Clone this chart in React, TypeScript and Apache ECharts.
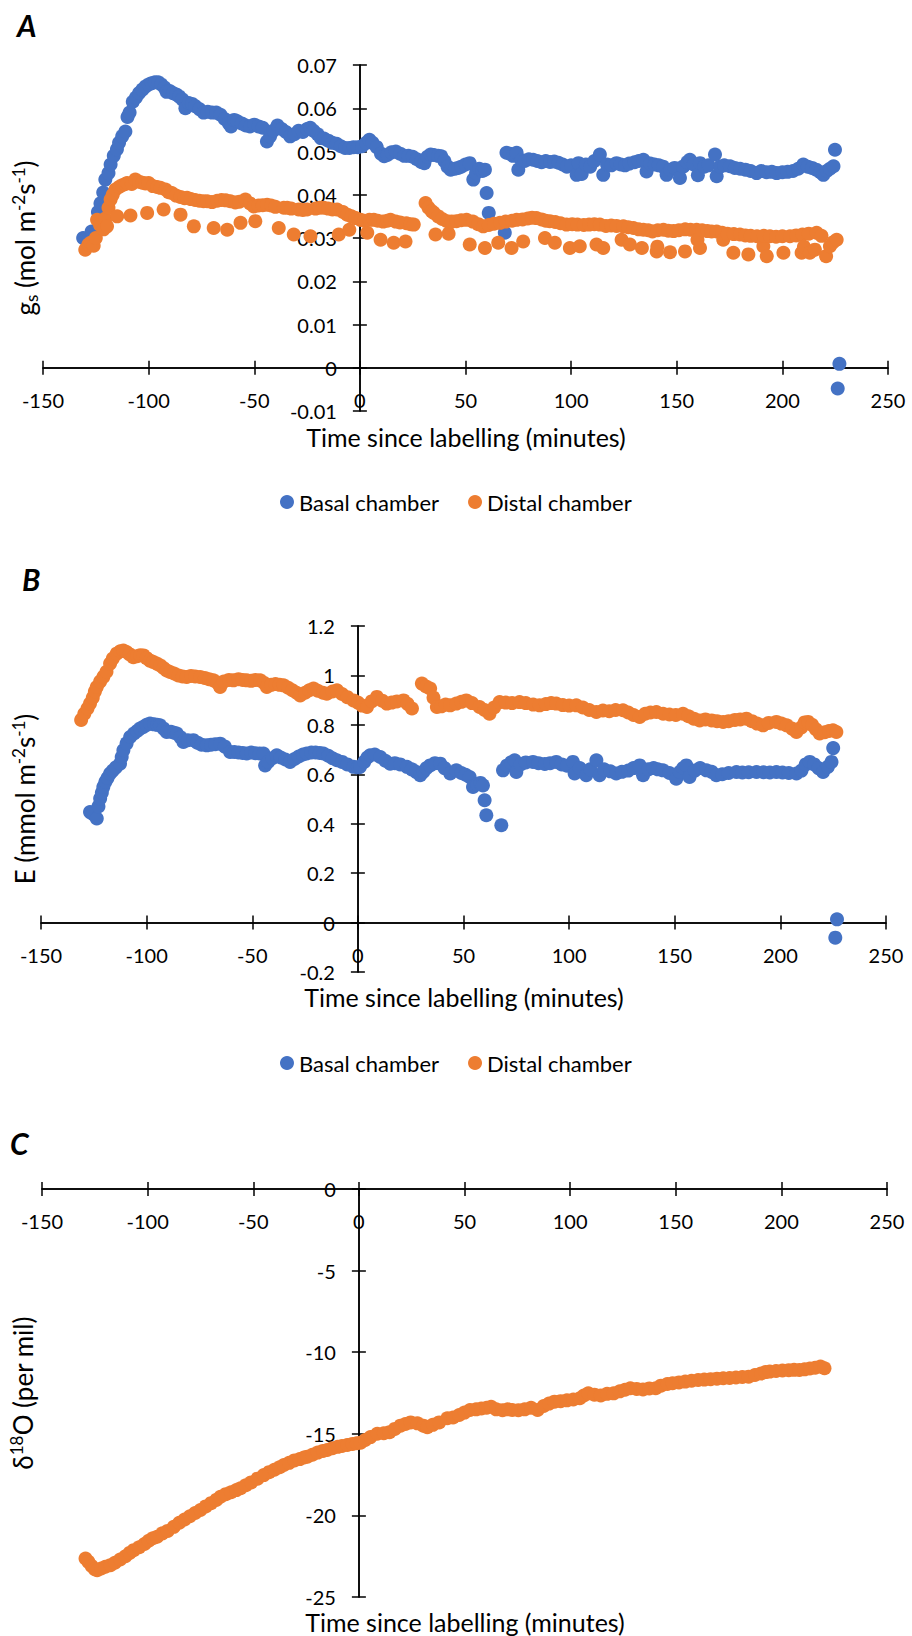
import React, { useEffect, useRef } from 'react';
import * as echarts from 'echarts';

const BLUE = '#4472C4';
const ORANGE = '#ED7D31';

const timeTicks = [-150, -100, -50, 0, 50, 100, 150, 200, 250];
const gsTicks = [-0.01, 0, 0.01, 0.02, 0.03, 0.04, 0.05, 0.06, 0.07];
const eTicks = [-0.2, 0, 0.2, 0.4, 0.6, 0.8, 1.0, 1.2];
const d18Ticks = [-25, -20, -15, -10, -5, 0];

const seriesNames = ['Basal chamber', 'Distal chamber'];

// Panel A: stomatal conductance, basal chamber
const gsBasal: [number, number][] = [
  [-131, 0.03], [-127, 0.0315], [-124, 0.036], [-122.8, 0.038], [-121.5, 0.0405], [-120.5, 0.0435],
  [-119, 0.045], [-118, 0.047], [-116.5, 0.049], [-115, 0.0505], [-114, 0.052], [-112.5, 0.0535],
  [-111, 0.0546], [-110, 0.058], [-109, 0.059], [-107.5, 0.0615], [-106, 0.0625], [-104.5, 0.0635],
  [-103, 0.0643], [-101.5, 0.065], [-100, 0.0655], [-98.5, 0.0658], [-97, 0.066], [-95.5, 0.066],
  [-94, 0.0655], [-92.5, 0.0648], [-91.5, 0.0638], [-90, 0.064], [-88.5, 0.0635], [-87, 0.0632],
  [-85.5, 0.0627], [-84, 0.062], [-82.6, 0.06], [-81, 0.0612], [-79.5, 0.061], [-78, 0.0605],
  [-76, 0.0598], [-74, 0.059], [-72, 0.0592], [-70, 0.059], [-68, 0.059], [-66, 0.0585],
  [-64, 0.0575], [-62, 0.0565], [-61, 0.0558], [-59.5, 0.0573], [-58, 0.057], [-56, 0.0565],
  [-54, 0.056], [-52, 0.0558], [-50, 0.0562], [-48, 0.0558], [-46, 0.0555], [-44, 0.0523],
  [-42.5, 0.0535], [-41, 0.0548], [-39, 0.056], [-37, 0.0552], [-35, 0.0545], [-33, 0.0535],
  [-31, 0.054], [-29, 0.0548], [-27, 0.0545], [-25, 0.0552], [-23.5, 0.0555], [-22, 0.0548],
  [-20, 0.054], [-18.5, 0.0531], [-17, 0.053], [-15, 0.0525], [-13, 0.052], [-11, 0.0518],
  [-9, 0.0512], [-7, 0.0508], [-5, 0.0508], [-3, 0.051], [-1, 0.051], [1, 0.0512],
  [3, 0.052], [4.5, 0.0527], [6, 0.052], [8, 0.051], [10, 0.0495], [11.5, 0.0489],
  [13, 0.0492], [15, 0.0498], [17, 0.05], [19, 0.0495], [21, 0.049], [23, 0.049],
  [25, 0.0488], [27, 0.0482], [29, 0.0476], [30.5, 0.0473], [32, 0.0488], [33.5, 0.0493],
  [35, 0.0492], [37, 0.049], [38.5, 0.0489], [40, 0.0478], [41.5, 0.0465], [43, 0.0458],
  [45, 0.046], [46.5, 0.0462], [48, 0.0465], [50, 0.047], [52, 0.0473], [53.7, 0.0435],
  [55, 0.045], [56.5, 0.046], [58, 0.0455], [59.2, 0.0458], [60, 0.0404], [61, 0.0358],
  [68.6, 0.0312], [69.4, 0.0497], [71, 0.0495], [72.5, 0.049], [74.2, 0.0497], [75, 0.0458],
  [76.5, 0.048], [78, 0.0478], [80, 0.0482], [82, 0.0481], [84, 0.0478], [86, 0.0475],
  [88, 0.0478], [90, 0.0476], [92, 0.0477], [94, 0.0474], [96, 0.047], [98, 0.0465],
  [100, 0.0468], [102.6, 0.0446], [103.5, 0.0473], [105, 0.0448], [107, 0.047], [109, 0.0465],
  [111, 0.0478], [113.6, 0.0493], [115.2, 0.0446], [117, 0.047], [119, 0.0468], [121.5, 0.0473],
  [123.5, 0.047], [125.5, 0.0468], [127.5, 0.0472], [130, 0.0475], [132, 0.0478], [134.2, 0.0481],
  [135.7, 0.0454], [137.5, 0.0472], [139.5, 0.047], [141.5, 0.0468], [143.5, 0.0465], [145.2, 0.0446],
  [147, 0.0458], [149, 0.0462], [151.5, 0.0439], [153, 0.0465], [155, 0.0475], [156.2, 0.0481],
  [158, 0.047], [160, 0.0445], [161, 0.0473], [163, 0.0465], [165, 0.0468], [168.1, 0.0493],
  [168.9, 0.0443], [170.5, 0.0465], [172.5, 0.0468], [175.2, 0.0466], [177.5, 0.0462], [180, 0.046],
  [182.5, 0.0458], [185, 0.0455], [187.8, 0.045], [190, 0.0455], [192.5, 0.0452], [195, 0.0453],
  [197.3, 0.045], [200, 0.0452], [202.5, 0.0453], [205, 0.0455], [207.5, 0.046], [209.9, 0.047],
  [212, 0.0465], [214, 0.0462], [216, 0.0458], [218, 0.0452], [219.4, 0.0446], [221, 0.0455],
  [222.5, 0.046], [224.2, 0.0466], [224.9, 0.0504], [226.2, -0.0048], [227, 0.0009],
];

// Panel A: stomatal conductance, distal chamber
const gsDistal: [number, number][] = [
  [-130, 0.0273], [-128.5, 0.0285], [-127.5, 0.0289], [-126, 0.0282], [-125, 0.03], [-124.4, 0.0342],
  [-123, 0.033], [-121.3, 0.032], [-120.5, 0.0345], [-119.7, 0.0327], [-119, 0.037], [-118, 0.0389],
  [-117, 0.04], [-115.7, 0.0412], [-114.9, 0.035], [-114, 0.0418], [-112.5, 0.0422], [-111, 0.0425],
  [-110.2, 0.0427], [-108.6, 0.0352], [-108, 0.0425], [-106.3, 0.0435], [-104.5, 0.043], [-103, 0.0428],
  [-101.5, 0.0426], [-100.7, 0.0358], [-100, 0.0427], [-98, 0.042], [-96, 0.0418], [-94.4, 0.0416],
  [-92.9, 0.0366], [-92, 0.0412], [-90.5, 0.0406], [-89, 0.0404], [-87, 0.0398], [-85, 0.0395],
  [-84.9, 0.0354], [-83, 0.0392], [-81.8, 0.0393], [-80, 0.039], [-78.6, 0.0327], [-78, 0.0388],
  [-76, 0.0386], [-74, 0.0385], [-72.3, 0.0385], [-70, 0.0383], [-69.2, 0.0323], [-67.5, 0.0386],
  [-65.5, 0.0388], [-63.5, 0.0387], [-62.8, 0.0319], [-61.3, 0.0385], [-59, 0.0382], [-57, 0.0384],
  [-56.5, 0.0335], [-54.2, 0.0389], [-52, 0.038], [-50.2, 0.0373], [-49.5, 0.0339], [-48, 0.0375],
  [-46, 0.0376], [-43.9, 0.0377], [-42, 0.0375], [-40, 0.0372], [-38.4, 0.0323], [-36, 0.037],
  [-34.4, 0.037], [-32.5, 0.0368], [-31.3, 0.0308], [-29, 0.0366], [-27, 0.0365], [-25, 0.0366],
  [-23.4, 0.0304], [-21, 0.0368], [-19, 0.037], [-17.1, 0.037], [-15, 0.0368], [-13, 0.0366],
  [-10.8, 0.0366], [-10, 0.0308], [-8, 0.036], [-6, 0.0354], [-5, 0.0319], [-4, 0.035],
  [-2, 0.0346], [0.3, 0.0342], [2, 0.034], [3.5, 0.0312], [4.5, 0.0342], [6.6, 0.0342],
  [8.5, 0.034], [9.8, 0.0296], [11, 0.0338], [13, 0.034], [14.5, 0.0342], [16, 0.0289],
  [17, 0.0338], [19, 0.0336], [21.6, 0.0292], [22, 0.0334], [24, 0.0332], [25.5, 0.0331],
  [31.1, 0.0381], [32.5, 0.037], [34, 0.0362], [35, 0.0358], [35.8, 0.0308], [37, 0.035],
  [39, 0.0344], [41.3, 0.0339], [42, 0.031], [43.5, 0.0338], [45.7, 0.0339], [48, 0.0341],
  [50.5, 0.0342], [52, 0.0285], [53.5, 0.0338], [56, 0.0332], [58.4, 0.0327], [59.2, 0.0277],
  [61, 0.033], [63.5, 0.0333], [65.5, 0.0289], [66.3, 0.0335], [69, 0.0338], [71.8, 0.0277],
  [72, 0.034], [74.2, 0.0342], [77, 0.0343], [77.3, 0.0292], [79.5, 0.0345], [81.5, 0.0347],
  [83.6, 0.0346], [86, 0.0343], [87.6, 0.03], [88, 0.034], [89.9, 0.0339], [92.3, 0.0289],
  [92.5, 0.0337], [95, 0.0334], [97.8, 0.0331], [99.4, 0.0277], [100.5, 0.0332], [103, 0.0331],
  [104.1, 0.0281], [106, 0.033], [108.5, 0.0331], [111, 0.0332], [112, 0.0285], [113.6, 0.0331],
  [115.2, 0.0277], [116.5, 0.0328], [119, 0.0329], [121.5, 0.0328], [123.9, 0.0296], [124.7, 0.0327],
  [127, 0.0325], [127.8, 0.0285], [129.5, 0.0323], [132, 0.032], [133.5, 0.0277], [134.2, 0.0319],
  [136.5, 0.0318], [138.5, 0.0315], [140.5, 0.0269], [140.8, 0.028], [141, 0.0318], [143.7, 0.0319],
  [146, 0.0317], [146.8, 0.0267], [148.5, 0.0316], [151, 0.0318], [153.9, 0.0269], [154, 0.032],
  [156.5, 0.0319], [159.4, 0.0319], [159.8, 0.0296], [161, 0.0277], [162, 0.0318], [164.5, 0.0316],
  [166.5, 0.0315], [168.9, 0.0315], [171.5, 0.0312], [172, 0.0296], [174, 0.031], [176.8, 0.0266],
  [177, 0.0309], [179.9, 0.0308], [182.5, 0.0306], [183.9, 0.0262], [185, 0.0305], [188, 0.0304],
  [191, 0.0281], [191.2, 0.0305], [192.6, 0.0258], [194.1, 0.0304], [197, 0.0303], [200, 0.0304],
  [200.5, 0.0266], [203.6, 0.0304], [206.5, 0.0306], [209.1, 0.0266], [209.5, 0.0308], [210.2, 0.028],
  [212.5, 0.031], [213, 0.0266], [215.4, 0.0273], [216.2, 0.0312], [218.5, 0.0305], [220.7, 0.0258],
  [222.5, 0.0281], [224, 0.029], [225.7, 0.0296],
];

// Panel B: transpiration, basal chamber
const eBasal: [number, number][] = [
  [-126.8, 0.447], [-125.5, 0.44], [-123.6, 0.421], [-122.8, 0.47], [-122, 0.502], [-121.2, 0.525],
  [-120.5, 0.549], [-119.5, 0.57], [-118.5, 0.585], [-117.3, 0.603], [-116, 0.615], [-114.5, 0.628],
  [-112.6, 0.643], [-111.8, 0.67], [-111, 0.697], [-109.5, 0.725], [-107.8, 0.751], [-106, 0.765],
  [-104.5, 0.775], [-103.1, 0.785], [-101.5, 0.792], [-100, 0.8], [-98.4, 0.805], [-96.5, 0.802],
  [-95, 0.8], [-93.7, 0.798], [-92, 0.785], [-90.5, 0.771], [-88.5, 0.772], [-87, 0.768],
  [-85.7, 0.765], [-84, 0.75], [-82.6, 0.731], [-80.5, 0.738], [-77.9, 0.738], [-76, 0.728],
  [-74, 0.72], [-71.5, 0.717], [-69.5, 0.72], [-67.5, 0.722], [-65.2, 0.724], [-63, 0.712],
  [-60.5, 0.69], [-58.5, 0.69], [-56.5, 0.688], [-54.5, 0.686], [-52.6, 0.684], [-50.5, 0.688],
  [-48.5, 0.685], [-46.5, 0.684], [-44.7, 0.684], [-43.9, 0.636], [-42.5, 0.65], [-40.5, 0.665],
  [-38.4, 0.677], [-36.5, 0.668], [-34.3, 0.66], [-32.1, 0.65], [-30, 0.662], [-28, 0.672],
  [-26, 0.68], [-24.2, 0.684], [-22, 0.688], [-20, 0.688], [-18, 0.686], [-16.3, 0.684],
  [-14, 0.675], [-12, 0.665], [-9.9, 0.657], [-7.5, 0.65], [-5, 0.64], [-2.1, 0.63],
  [0, 0.628], [1, 0.63], [3, 0.65], [4.5, 0.668], [5.8, 0.677], [8, 0.68],
  [10.6, 0.67], [13, 0.655], [15.3, 0.643], [17.5, 0.645], [20, 0.64], [23.2, 0.63],
  [25.5, 0.62], [27.5, 0.61], [29.5, 0.596], [31, 0.61], [32.5, 0.625], [34.2, 0.636],
  [36.5, 0.645], [39, 0.643], [41, 0.625], [43.7, 0.603], [46.6, 0.616], [49, 0.605],
  [51, 0.598], [52.9, 0.589], [54.5, 0.549], [56.5, 0.56], [58, 0.565], [59.2, 0.555],
  [60, 0.495], [60.8, 0.434], [67.9, 0.394], [68.7, 0.616], [70.5, 0.635], [72.5, 0.648],
  [74.2, 0.657], [75, 0.609], [77, 0.64], [79.5, 0.648], [82.9, 0.65], [85.5, 0.645],
  [88.5, 0.642], [91, 0.645], [93.9, 0.65], [96.5, 0.64], [99, 0.635], [101.8, 0.65],
  [102.6, 0.603], [105, 0.625], [108.1, 0.596], [110, 0.62], [112.9, 0.657], [114.4, 0.596],
  [116.5, 0.62], [119.5, 0.612], [122.3, 0.603], [125, 0.61], [128, 0.615], [130.5, 0.625],
  [133.4, 0.636], [135, 0.596], [137.5, 0.62], [140, 0.625], [142, 0.62], [144.4, 0.616],
  [147.5, 0.605], [150.7, 0.582], [152.5, 0.61], [154, 0.625], [155.5, 0.636], [157, 0.589],
  [159.5, 0.615], [162, 0.625], [165, 0.616], [167.5, 0.61], [169.7, 0.596], [172.5, 0.6],
  [175.5, 0.605], [179.2, 0.609], [182, 0.607], [185, 0.608], [188.7, 0.609], [192, 0.608],
  [195, 0.607], [198.1, 0.609], [201, 0.607], [204, 0.605], [207.6, 0.603], [210, 0.615],
  [212, 0.64], [213.9, 0.65], [216, 0.64], [218, 0.625], [220.2, 0.609], [222.5, 0.63],
  [224.2, 0.65], [225, 0.706], [226, -0.061], [226.8, 0.013],
];

// Panel B: transpiration, distal chamber
const eDistal: [number, number][] = [
  [-131, 0.82], [-129.5, 0.845], [-128, 0.866], [-126.8, 0.886], [-125.5, 0.91], [-124.5, 0.935],
  [-123.6, 0.953], [-122, 0.975], [-120.5, 0.994], [-119, 1.015], [-117.3, 1.048], [-116, 1.068],
  [-114.2, 1.088], [-112.5, 1.098], [-111, 1.101], [-109.5, 1.095], [-108, 1.085], [-106.3, 1.074],
  [-104.5, 1.078], [-103, 1.082], [-101.5, 1.081], [-100, 1.07], [-98.5, 1.06], [-97, 1.055],
  [-95.2, 1.048], [-93.5, 1.04], [-92, 1.03], [-90.5, 1.02], [-88.9, 1.014], [-87, 1.008],
  [-85, 1.0], [-83, 0.996], [-81, 0.994], [-79, 0.998], [-77, 0.996], [-74.7, 0.994],
  [-72.5, 0.99], [-70.5, 0.985], [-68.4, 0.98], [-66.5, 0.97], [-65.2, 0.953], [-63.5, 0.975],
  [-61, 0.982], [-58.9, 0.98], [-56.5, 0.985], [-54.5, 0.982], [-52.6, 0.98], [-50.5, 0.978],
  [-48.5, 0.982], [-46.3, 0.98], [-44.5, 0.97], [-43.1, 0.953], [-41, 0.962], [-39, 0.965],
  [-37, 0.962], [-35.2, 0.96], [-33, 0.95], [-31, 0.94], [-29, 0.93], [-27.3, 0.919],
  [-25, 0.93], [-23, 0.94], [-21, 0.947], [-19, 0.938], [-16.5, 0.93], [-14.7, 0.926],
  [-12, 0.935], [-9.9, 0.94], [-7.5, 0.925], [-5, 0.912], [-2.1, 0.899], [0, 0.89],
  [2, 0.878], [4.3, 0.872], [6.5, 0.895], [9, 0.913], [11.5, 0.898], [13.7, 0.886],
  [16, 0.89], [18.5, 0.895], [21.6, 0.899], [23.5, 0.885], [25.6, 0.866], [30.3, 0.967],
  [32.3, 0.955], [34.2, 0.947], [35.8, 0.91], [37.4, 0.872], [39.5, 0.875], [41.5, 0.882],
  [43.7, 0.879], [46.6, 0.886], [49, 0.893], [51.3, 0.899], [54, 0.888], [57.6, 0.872],
  [60, 0.86], [62.3, 0.845], [64.5, 0.87], [67.1, 0.892], [70, 0.89], [73, 0.888],
  [76.5, 0.892], [79.5, 0.888], [83, 0.882], [86, 0.879], [89, 0.884], [91.5, 0.888],
  [93.9, 0.886], [97, 0.88], [100, 0.878], [103.4, 0.879], [106.5, 0.87], [109.5, 0.86],
  [112.9, 0.852], [116, 0.858], [119, 0.855], [122, 0.86], [125.5, 0.859], [128, 0.85],
  [130.5, 0.84], [133.4, 0.832], [136, 0.845], [138.5, 0.85], [141.3, 0.852], [144.5, 0.845],
  [147.5, 0.842], [150.5, 0.84], [153.9, 0.845], [156.5, 0.835], [159, 0.825], [161.8, 0.818],
  [164.5, 0.822], [167.5, 0.818], [170, 0.815], [172.9, 0.812], [175.5, 0.815], [178.5, 0.82],
  [181, 0.822], [183.9, 0.825], [186.5, 0.815], [189, 0.805], [191.8, 0.798], [194.5, 0.808],
  [198.1, 0.812], [200.5, 0.805], [203, 0.798], [205.5, 0.785], [207.6, 0.771], [210, 0.79],
  [211.5, 0.81], [213.1, 0.812], [215, 0.8], [216.8, 0.782], [218.6, 0.765], [221, 0.77],
  [223, 0.775], [224.9, 0.778], [226.5, 0.771],
];

// Panel C: delta 18O of distal chamber
const d18Distal: [number, number][] = [
  [-129.4, -22.64], [-128, -22.85], [-126.5, -23.1], [-125, -23.3], [-123.9, -23.36], [-122, -23.25],
  [-120, -23.15], [-117.6, -23.05], [-115.5, -22.9], [-113, -22.7], [-110.5, -22.5], [-108.5, -22.3],
  [-106.6, -22.13], [-104, -21.95], [-101.5, -21.75], [-99.5, -21.55], [-97.5, -21.4], [-95.5, -21.31],
  [-93, -21.1], [-90.5, -20.95], [-87.6, -20.7], [-85, -20.45], [-82.5, -20.25], [-80, -20.05],
  [-77.5, -19.85], [-75, -19.67], [-72.5, -19.45], [-70, -19.25], [-67.5, -19.05], [-65.5, -18.86],
  [-63, -18.7], [-60.5, -18.58], [-58, -18.45], [-56, -18.34], [-53.5, -18.15], [-51, -17.98],
  [-48, -17.75], [-45, -17.53], [-42.5, -17.35], [-40, -17.2], [-37.5, -17.05], [-35.5, -16.91],
  [-33, -16.78], [-30.5, -16.63], [-28, -16.55], [-26, -16.45], [-24.4, -16.4], [-22, -16.28],
  [-19.5, -16.15], [-17, -16.05], [-15, -15.99], [-12.5, -15.88], [-10, -15.8], [-8, -15.75],
  [-5.5, -15.69], [-3, -15.62], [-1, -15.58], [0.8, -15.55], [3, -15.38], [5.5, -15.2],
  [8.7, -15.0], [11.8, -14.97], [14.5, -14.9], [17, -14.7], [19.7, -14.5], [22, -14.4],
  [24.5, -14.3], [27.7, -14.36], [30.5, -14.5], [32.4, -14.6], [35, -14.45], [38, -14.3],
  [41.9, -14.05], [44.6, -14.0], [47.5, -13.85], [50, -13.7], [52.6, -13.54], [55.5, -13.5],
  [58, -13.45], [60.5, -13.4], [62.6, -13.34], [65, -13.5], [68, -13.55], [70.5, -13.5],
  [72.6, -13.54], [75.5, -13.55], [78.5, -13.5], [81.5, -13.4], [84.6, -13.54], [87.5, -13.3],
  [90, -13.15], [92.6, -13.03], [95.5, -13.0], [98.5, -12.95], [101.5, -12.9], [104.6, -12.82],
  [106.5, -12.65], [108.6, -12.52], [111.5, -12.6], [114.5, -12.65], [117.5, -12.55], [120.6, -12.52],
  [123.5, -12.4], [126, -12.3], [128.5, -12.21], [131.5, -12.25], [134.5, -12.28], [137.5, -12.22],
  [140.5, -12.21], [143, -12.05], [146, -11.95], [148.5, -11.9], [151.5, -11.85], [154.5, -11.8],
  [157.5, -11.75], [160.6, -11.7], [163.5, -11.68], [166.5, -11.65], [169.5, -11.62], [172.5, -11.6],
  [175.5, -11.58], [178.5, -11.55], [181.5, -11.52], [184.5, -11.5], [187.5, -11.4], [190.5, -11.3],
  [192.5, -11.22], [194.5, -11.19], [197.5, -11.15], [200.5, -11.12], [203.5, -11.1], [206, -11.08],
  [208.5, -11.09], [211, -11.05], [213.5, -11.0], [216, -10.95], [218.5, -10.88], [220.4, -10.98],
];

const FONT = 'Lato';
const AXIS_COLOR = '#000';

const grids = [
  { left: 43, top: 65, width: 845, height: 346 },
  { left: 41, top: 626, width: 845, height: 346 },
  { left: 42, top: 1189, width: 845, height: 408 },
];

function fmt(v: number, d: number) {
  return String(+v.toFixed(d));
}

function buildAxes(i: number, yTicks: number[], decimals: number) {
  const g = grids[i];
  const xmin = timeTicks[0];
  const xmax = timeTicks[timeTicks.length - 1];
  const xInt = timeTicks[1] - timeTicks[0];
  const ymin = yTicks[0];
  const ymax = yTicks[yTicks.length - 1];
  const yInt = +(yTicks[1] - yTicks[0]).toFixed(6);
  const zTop = (g.height * (ymax - 0)) / (ymax - ymin);
  const zBottom = g.height - zTop;
  const zLeft = (g.width * (0 - xmin)) / (xmax - xmin);
  const zRight = g.width - zLeft;
  const line = { show: true, onZero: false, lineStyle: { color: AXIS_COLOR, width: 1.5 } };
  const tick = { show: true, length: 7, lineStyle: { color: AXIS_COLOR, width: 1.5 } };
  const label = {
    fontFamily: FONT,
    fontSize: 20,
    lineHeight: 18,
    color: '#000',
    showMinLabel: true,
    showMaxLabel: true,
  };
  const xCommon = {
    gridIndex: i,
    type: 'value' as const,
    min: xmin,
    max: xmax,
    interval: xInt,
    splitLine: { show: false },
    axisLine: line,
    axisTick: tick,
  };
  const yCommon = {
    gridIndex: i,
    type: 'value' as const,
    min: ymin,
    max: ymax,
    interval: yInt,
    splitLine: { show: false },
    axisLine: line,
    axisTick: tick,
  };
  const xAxes = [
    {
      ...xCommon,
      position: 'bottom',
      offset: -zBottom,
      axisLabel: { ...label, margin: 23, formatter: (v: number) => fmt(v, 0) },
    },
    { ...xCommon, position: 'top', offset: -zTop, axisLabel: { show: false } },
  ];
  const yAxes = [
    {
      ...yCommon,
      position: 'left',
      offset: -zLeft,
      axisLabel: { ...label, margin: 23, formatter: (v: number) => fmt(v, decimals) },
    },
    { ...yCommon, position: 'right', offset: -zRight, axisLabel: { show: false } },
  ];
  return { xAxes, yAxes };
}

function scatter(name: string, data: [number, number][], color: string, gi: number) {
  return {
    type: 'scatter',
    name,
    xAxisIndex: gi * 2,
    yAxisIndex: gi * 2,
    data,
    symbol: 'circle',
    symbolSize: 14,
    itemStyle: { color, opacity: 1 },
    emphasis: { disabled: true },
    silent: true,
  };
}

function textEl(x: number, y: number, text: string, fontSize: number, extra: any = {}) {
  return {
    type: 'text',
    x,
    y,
    rotation: extra.rotation || 0,
    style: {
      text,
      x: 0,
      y: 0,
      fill: '#000',
      fontFamily: FONT,
      fontSize,
      lineHeight: extra.lineHeight,
      fontWeight: extra.fontWeight || 'normal',
      fontStyle: extra.fontStyle || 'normal',
      align: extra.align || 'center',
      textAlign: extra.align || 'center',
      verticalAlign: 'middle',
      textVerticalAlign: 'middle',
      rich: extra.rich,
    },
  };
}

const titleRich = {
  sup: { fontFamily: FONT, fontSize: 17, verticalAlign: 'top', fill: '#000', lineHeight: 30 },
  sub: { fontFamily: FONT, fontSize: 17, verticalAlign: 'bottom', fill: '#000', lineHeight: 30 },
};

export default function App() {
  const ref = useRef<HTMLDivElement>(null);
  useEffect(() => {
    document.body.style.margin = '0';
    if (!ref.current) return;
    const chart = echarts.init(ref.current, null, { renderer: 'svg', width: 912, height: 1636 });
    const a = buildAxes(0, gsTicks, 2);
    const b = buildAxes(1, eTicks, 1);
    const c = buildAxes(2, d18Ticks, 0);
    const legendBase = {
      data: seriesNames,
      left: 280,
      icon: 'circle',
      itemWidth: 14,
      itemHeight: 14,
      itemGap: 29,
      padding: 0,
      selectedMode: false,
      textStyle: { fontFamily: FONT, fontSize: 22, color: '#000' },
    };
    const option: any = {
      animation: false,
      backgroundColor: '#fff',
      textStyle: { fontFamily: FONT },
      grid: grids.map((g) => ({ ...g, containLabel: false, outerBoundsMode: 'none' })),
      xAxis: [...a.xAxes, ...b.xAxes, ...c.xAxes],
      yAxis: [...a.yAxes, ...b.yAxes, ...c.yAxes],
      legend: [
        { ...legendBase, top: 491 },
        { ...legendBase, top: 1052 },
      ],
      series: [
        scatter(seriesNames[0], gsBasal, BLUE, 0),
        scatter(seriesNames[1], gsDistal, ORANGE, 0),
        scatter(seriesNames[0], eBasal, BLUE, 1),
        scatter(seriesNames[1], eDistal, ORANGE, 1),
        scatter('δ18O distal', d18Distal, ORANGE, 2),
      ],
      graphic: [
        textEl(17, 25, 'A', 30, { fontWeight: 'bold', fontStyle: 'italic', align: 'left' }),
        textEl(22, 579, 'B', 30, { fontWeight: 'bold', fontStyle: 'italic', align: 'left' }),
        textEl(10, 1143, 'C', 30, { fontWeight: 'bold', fontStyle: 'italic', align: 'left' }),
        textEl(466, 437, 'Time since labelling (minutes)', 25, { lineHeight: 24 }),
        textEl(464, 997, 'Time since labelling (minutes)', 25, { lineHeight: 24 }),
        textEl(465, 1622, 'Time since labelling (minutes)', 25, { lineHeight: 24 }),
        textEl(25, 238, 'g{sub|s} (mol m{sup|-2}s{sup|-1})', 26, { rotation: Math.PI / 2, rich: titleRich }),
        textEl(25, 799, 'E (mmol m{sup|-2}s{sup|-1})', 26, { rotation: Math.PI / 2, rich: titleRich }),
        textEl(23, 1393, 'δ{sup|18}O (per mil)', 26, { rotation: Math.PI / 2, rich: titleRich }),
      ],
    };
    chart.setOption(option);
    return () => chart.dispose();
  }, []);
  return <div ref={ref} style={{ width: 912, height: 1636 }} />;
}
